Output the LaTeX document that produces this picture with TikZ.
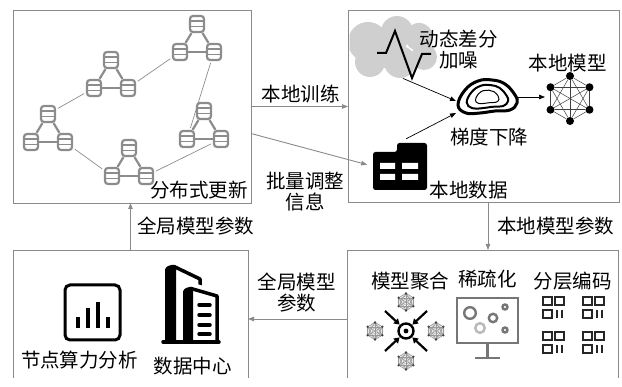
\documentclass[tikz,border=0pt]{standalone}
\usepackage{fontspec}
\newfontfamily\cjk{Noto Sans CJK SC}
\usetikzlibrary{arrows.meta}
\definecolor{frame}{HTML}{8A8A8A}
\definecolor{netgray}{HTML}{8C8C8C}
\definecolor{cloudgray}{HTML}{CFCFCF}
\definecolor{icongray}{HTML}{767676}

% small gray mesh sphere used around the aggregation target
\newcommand\meshball[1]{%
  \begin{scope}[shift={#1}]
    \fill[gray!12] (0,0) circle (8.5);
    \foreach \a in {30,90,...,330}
      \foreach \b in {30,90,...,330}
        \draw[gray!80, line width=0.35pt] (\a:8.5) -- (\b:8.5);
    \foreach \r in {3,6}
      \draw[gray!80, line width=0.35pt] (0,0) circle (\r);
    \foreach \a in {30,90,...,330}
      \fill[black!75] (\a:8.5) circle (1.3);
  \end{scope}}

\begin{document}
\begin{tikzpicture}[x=1pt,y=-1pt,
  lbl/.style={font=\cjk\fontsize{19.5}{21}\selectfont, inner sep=0pt, align=center},
  panel/.style={inner sep=0pt, outer sep=0pt},
  frameline/.style={draw=frame, line width=0.9pt},
  flow/.style={frame, line width=0.9pt, -{Triangle[length=6pt,width=4.5pt]}},
  link/.style={black, line width=0.7pt, -{Triangle[length=6pt,width=4.5pt]}},
  push/.style={black, line width=2.2pt, -{Triangle[length=5.5pt,width=6.5pt]}},
  db/.style={draw=netgray, line width=2.2pt, rounded corners=3pt,
    minimum width=14pt, minimum height=16pt, inner sep=0pt,
    path picture={
      \draw[netgray, line width=1.8pt]
        ([yshift=2.6pt]path picture bounding box.west) -- ([yshift=2.6pt]path picture bounding box.east)
        ([yshift=-2.6pt]path picture bounding box.west) -- ([yshift=-2.6pt]path picture bounding box.east);}},
  intra/.style={netgray, line width=2.2pt},
  inter/.style={netgray, line width=0.7pt, shorten >=2pt, shorten <=2pt},
  spot/.style={circle, fill=black, inner sep=0pt, minimum size=8pt},
  icon/.style={inner sep=0pt, outer sep=0pt}]

\useasboundingbox (0,0) rectangle (622,387);

% ---------- panels ----------
\node[panel, minimum width=238pt, minimum height=193pt] (tl) at (132,106.5) {};
\node[panel, minimum width=271pt, minimum height=192pt] (tr) at (483.5,106) {};
\node[panel, minimum width=235pt, minimum height=128pt] (bl) at (130.5,314) {};
\node[panel, minimum width=271pt, minimum height=128pt] (br) at (482.5,314) {};

\draw[frameline] (tl.south west) rectangle (tl.north east);
\draw[frameline] (tr.south west) rectangle (tr.north east);
\draw[frameline] (bl.south west) -- (bl.north west) -- (bl.north east) -- (bl.south east);
\draw[frameline] (br.south west) -- (br.north west) -- (br.north east) -- (br.south east);

% ---------- distributed network (top left) ----------
\foreach \n/\x/\y in {A/197/24, B/111/60, C/48/114, D/129/148, E/204/111} {
  \node[db] (\n1) at (\x,\y) {};
  \node[db] (\n2) at (\x-17,\y+28) {};
  \node[db] (\n3) at (\x+17,\y+28) {};
  \draw[intra] (\n1) -- (\n2);
  \draw[intra] (\n1) -- (\n3);
  \draw[intra] (\n2) -- (\n3);
}
\draw[inter] (B3) -- (A2);
\draw[inter] (B2) -- (C1);
\draw[inter] (A3) -- (E2);
\draw[inter] (C3) -- (D2);
\draw[inter] (D3) -- (E3);
\node[lbl, anchor=east] (dist) at (248,190) {分布式更新};

% ---------- local training (top right) ----------
\begin{scope}
  \clip (349.5,11) rectangle (617,201);
  \fill[cloudgray] (368,42) circle (20) (397,32) circle (16) (419,37) circle (14)
    (424,57) circle (13) (400,62) circle (16) (370,62) circle (15) (386,48) circle (20);
\end{scope}
\coordinate (noise) at (402,78);
\draw[black, line width=2pt, line join=miter] (377,53) -- (386,53) -- (395,31) -- (412,78) -- (422,54) -- (431,54);
\node[lbl] (dp) at (458.5,50) {动态差分\\加噪};

\node[icon, minimum width=62pt, minimum height=34pt] (gd) at (487,97) {};
\begin{scope}[shift={(487,97)}]
  \foreach \s/\w in {1/3pt, 0.7/2pt, 0.4/1pt}
    \draw[line width=\w, scale=\s] plot[smooth cycle, tension=0.7]
      coordinates {(-29,8) (-22,-7) (-9,-16) (5,-17) (18,-13) (28,-2) (30,6) (23,13) (8,14) (-7,16) (-21,16)};
\end{scope}
\node[lbl] (gdl) at (489,137) {梯度下降};

\node[icon, minimum width=50pt, minimum height=48pt] (lm) at (570,98.5) {};
\foreach \i/\a in {1/90,2/30,3/-30,4/-90,5/-150,6/150}
  \node[spot] (m\i) at ([shift={(570,98.5)}]\a:22.5) {};
\foreach \i in {1,...,5} {
  \pgfmathtruncatemacro\nxt{\i+1}
  \foreach \j in {\nxt,...,6}
    \draw[black!75, line width=0.5pt] (m\i) -- (m\j);
}
\node[lbl] (lml) at (567.5,63) {本地模型};

\node[icon, minimum width=56pt, minimum height=48pt] (ldata) at (400,166) {};
\fill[black, rounded corners=2.5pt] (373,190) -- (373,152) -- (397,152) -- (397,143) -- (427,143) -- (427,190) -- cycle;
\fill[white] (380,163) rectangle (395,169) (402,163) rectangle (418,169)
             (380,174) rectangle (395,180) (402,174) rectangle (418,180);
\node[lbl] (ldl) at (468.5,190) {本地数据};

\draw[link, shorten <=1pt] (noise) -- ([yshift=-4pt]gd.west);
\draw[link, shorten <=7pt] (ldata.north) -- ([yshift=-16pt]gd.west);
\draw[link] (gd.east) -- (gd.east -| lm.west);

% ---------- flows between panels ----------
\draw[flow] (tl.east) -- (tl.east -| tr.west);
\node[lbl] (train) at (300.5,94) {本地训练};
\draw[flow, shorten >=5pt] ([yshift=-27pt]tl.east) -- (ldata.west);
\node[lbl] (batch) at (305,192) {批量调整\\信息};
\draw[flow] (bl.north) -- (bl.north |- tl.south);
\node[lbl, anchor=west] (gpar) at (137,226) {全局模型参数};
\draw[flow] ([xshift=4.5pt]tr.south) -- ([xshift=4.5pt]tr.south |- br.north);
\node[lbl, anchor=west] (lpar) at (497,226) {本地模型参数};
\draw[flow] ([yshift=-5pt]br.west) -- ([yshift=-5pt]br.west -| bl.east);
\node[lbl] (gpar2) at (296.5,292.5) {全局模型\\参数};

% ---------- node analysis and data centre (bottom left) ----------
\node[icon, minimum size=55pt] (chart) at (92.5,312.5) {};
\draw[black, line width=3pt, rounded corners=5pt] (chart.south west) rectangle (chart.north east);
\foreach \x/\t in {77.5/317, 87.5/308, 97.5/302, 107.5/317}
  \fill[black] (\x-2,\t) rectangle (\x+2,328);
\node[lbl] (nodea) at (79.5,360) {节点算力分析};

\node[icon, minimum width=58pt, minimum height=80pt] (dc) at (192,304) {};
\fill[black, rounded corners=1.5pt] (165,343) -- (165,268) -- (170,265) -- (176,265) -- (176,343) -- cycle;
\draw[black, line width=3.5pt, line join=round] (174,266.5) -- (200,279) -- (200,292);
\fill[white] (180,345) -- (180,285) -- (194,283) -- (222,292) -- (222,345) -- cycle;
\fill[black, rounded corners=1.5pt] (183,343) -- (183,290) -- (188,287) -- (193,287) -- (193,343) -- cycle;
\draw[black, line width=3.5pt, line join=round] (191,288.5) -- (217,296) -- (217,342);
\draw[black, line width=3.5pt, line cap=round] (163,342) -- (219,342);
\foreach \y in {305,315,325,334}
  \draw[black, line width=3.5pt, line cap=round] (199,\y) -- (210,\y);
\node[lbl] (dcl) at (192.5,366) {数据中心};

% ---------- aggregation, sparsification, layered coding (bottom right) ----------
\node[lbl] (aggl) at (410,281) {模型聚合};
\node[lbl] (spl) at (487.5,279) {稀疏化};
\node[lbl] (encl) at (572.5,281) {分层编码};

\node[icon, circle, minimum size=18pt] (agg) at (406,331) {};
\draw[black, line width=2.4pt] (agg.center) circle (7.5);
\fill[black] (agg.center) circle (2.4);
\meshball{(406,302)}
\meshball{(406,361)}
\meshball{(375,331)}
\meshball{(436,331)}
\draw[push] (385,311) -- (agg.north west);
\draw[push] (427,311) -- (agg.north east);
\draw[push] (385,351) -- (agg.south west);
\draw[push] (427,351) -- (agg.south east);

\node[icon, minimum width=61pt, minimum height=45pt] (screen) at (487.5,320.5) {};
\draw[icongray, line width=2.4pt] (screen.south west) rectangle (screen.north east);
\draw[icongray, line width=2.4pt] (screen.south) -- (487.5,358) (475,358) -- (500,358);
\draw[icongray, line width=2.4pt] (470,313) circle (5.8) (493,318) circle (4.2)
  (505,307) circle (2.5) (505,330) circle (2.5);
\draw[gray!55, line width=2.4pt] (480,328) circle (4.8);

\foreach \ox/\oy in {543/297, 583/297, 543/332, 583/332} {
  \draw[black!85, line width=1.1pt]
    (\ox,\oy) rectangle ++(9,8)
    (\ox+12,\oy) rectangle ++(9,8)
    (\ox,\oy+13) rectangle ++(9,8)
    (\ox+14,\oy+13) -- ++(0,8)
    (\ox+19,\oy+13) -- ++(0,8);
}
\end{tikzpicture}
\end{document}
